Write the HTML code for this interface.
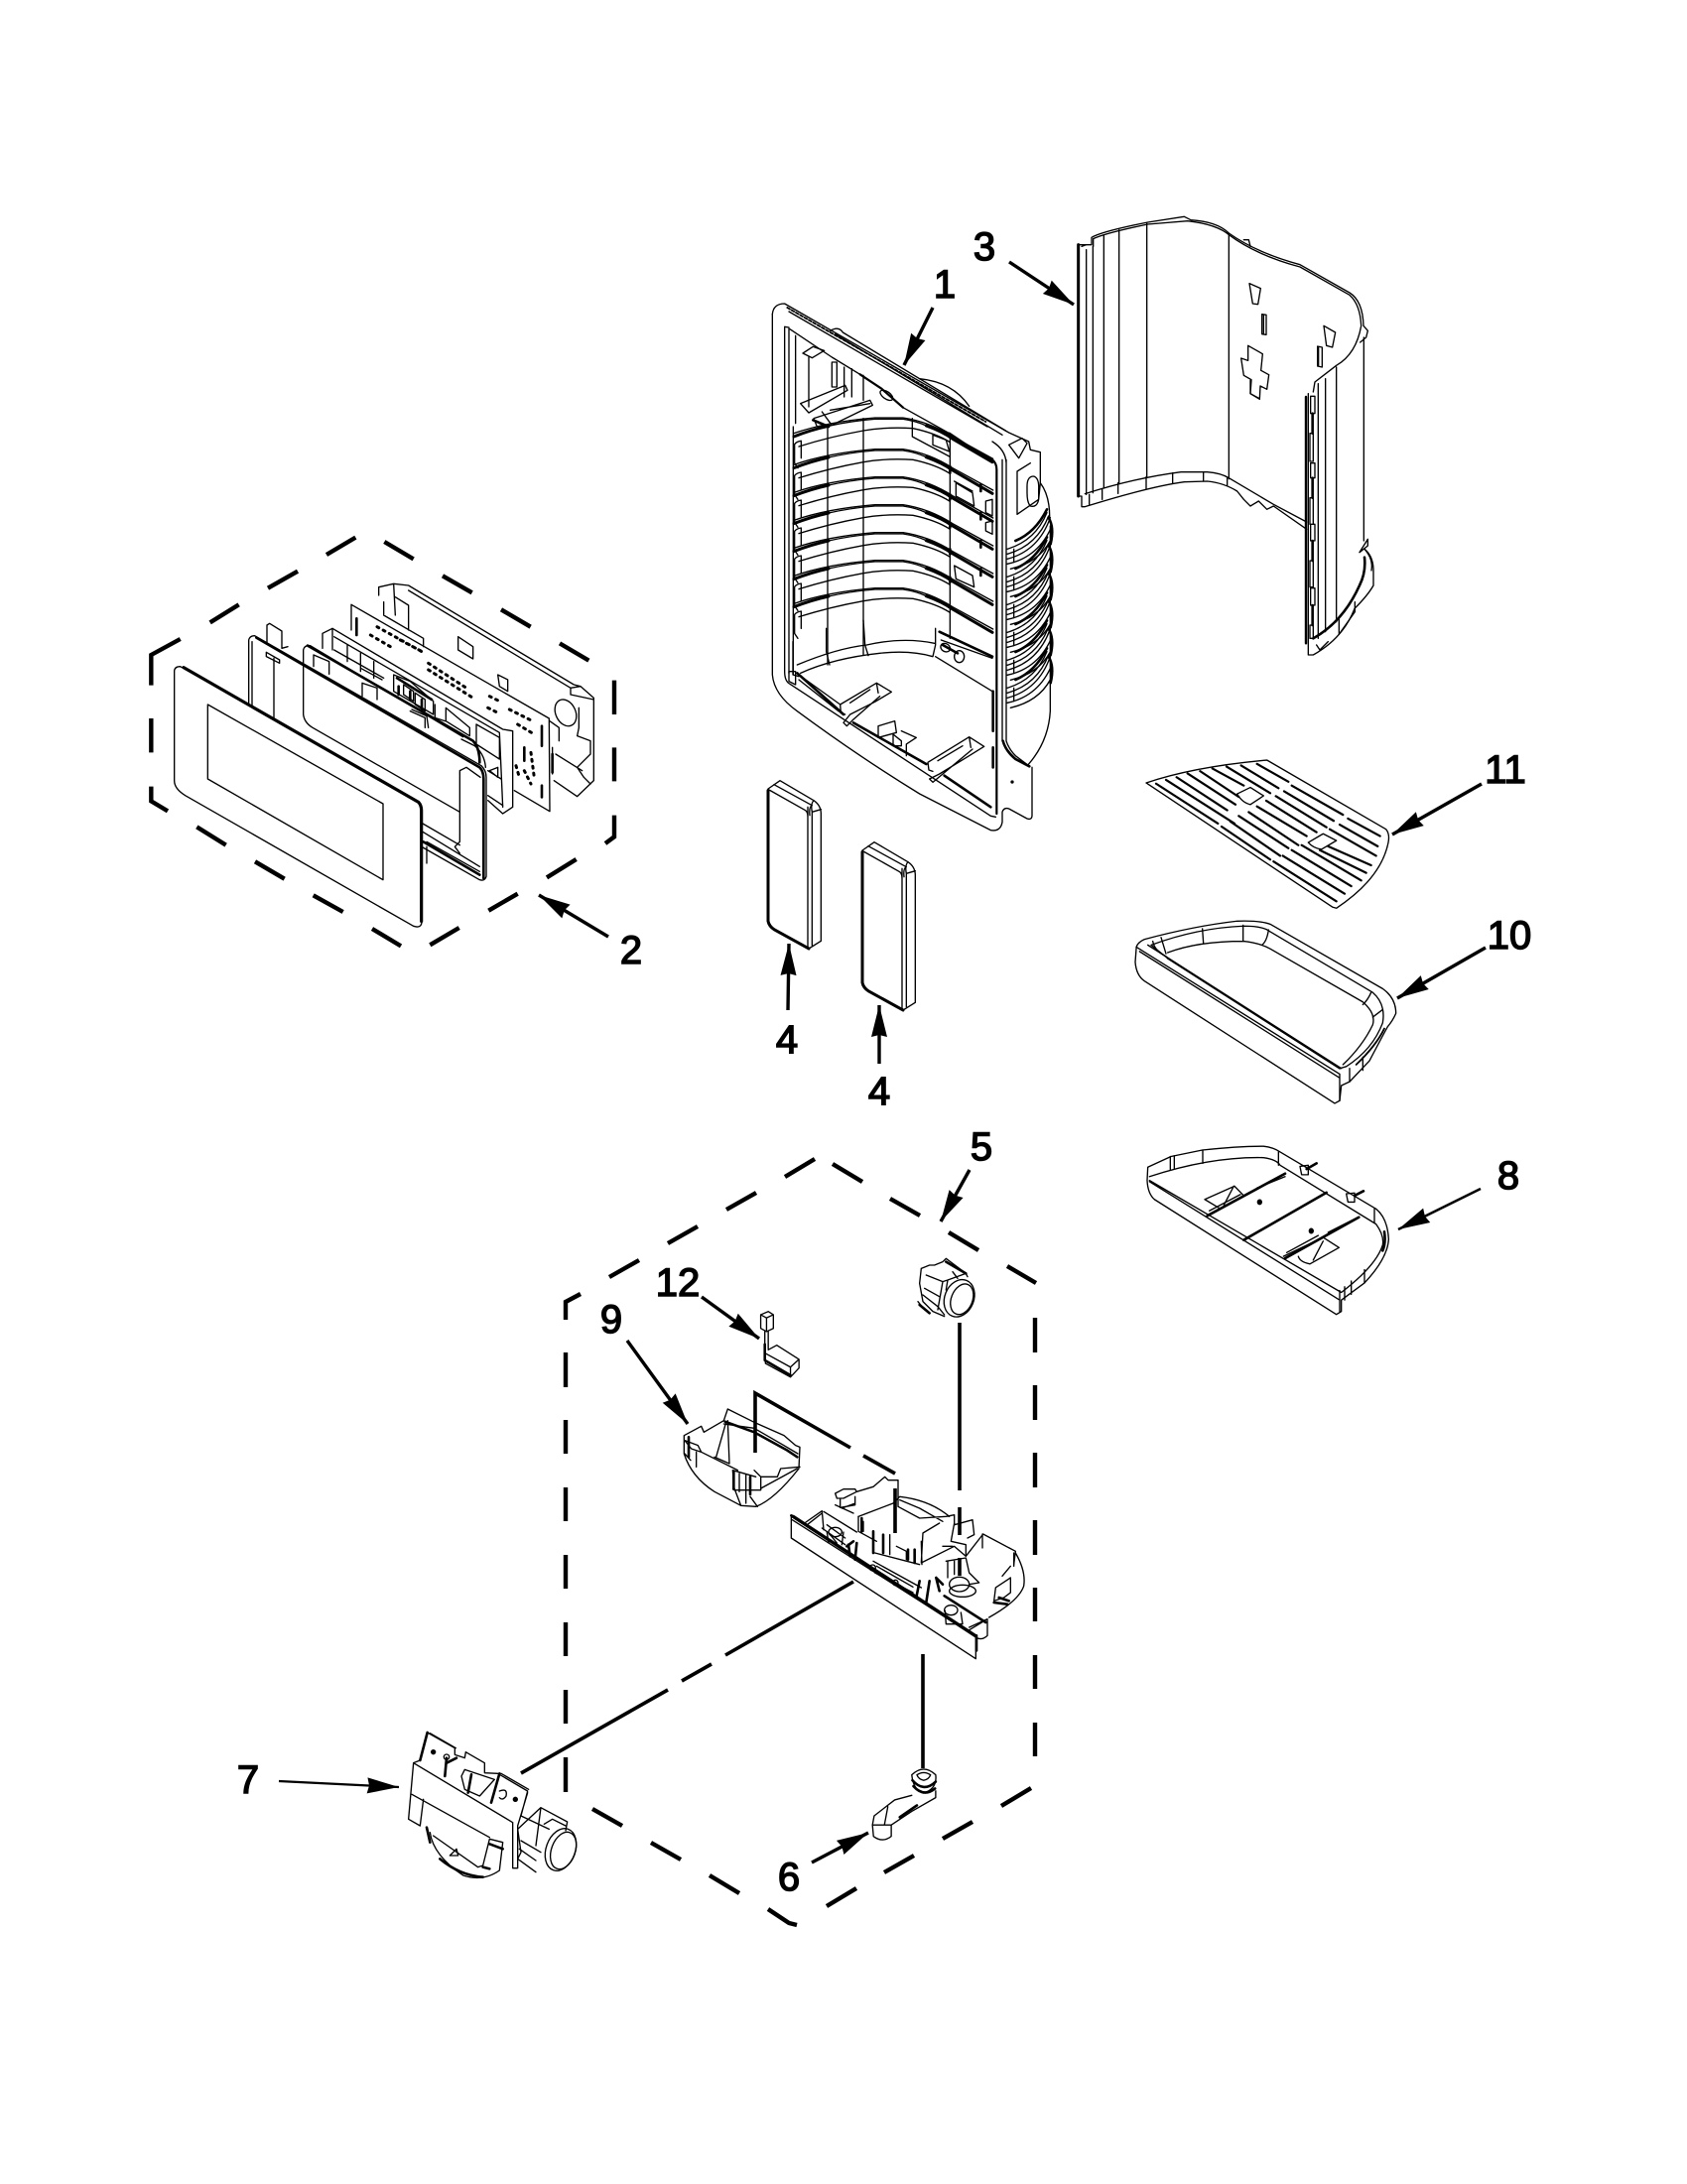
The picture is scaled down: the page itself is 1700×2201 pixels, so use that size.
<!DOCTYPE html>
<html><head><meta charset="utf-8"><style>
html,body{margin:0;padding:0;background:#fff}
svg{display:block}
svg *{vector-effect:non-scaling-stroke}
.l{fill:none;stroke:#000;stroke-width:1.35;stroke-linejoin:round;stroke-linecap:round}
.t{stroke-width:2.6}
.d{fill:none;stroke:#000;stroke-width:4.4;stroke-linecap:butt;stroke-linejoin:miter}
.a{fill:none;stroke:#000;stroke-width:3.4}
.n{font-family:"Liberation Sans",sans-serif;font-size:40px;fill:#000;stroke:#000;stroke-width:1.5;text-anchor:middle}
</style></head><body>
<svg xmlns="http://www.w3.org/2000/svg" width="1700" height="2201" viewBox="0 0 1700 2201">
<defs>
<marker id="m" markerUnits="userSpaceOnUse" markerWidth="36" markerHeight="20" refX="34" refY="10" orient="auto"><path d="M2,2 L34,10 L2,18 L4,10 Z" fill="#000" stroke="none"/></marker>
<g id="rib" class="l">
<path class="t" d="M120,545 Q170,525 225,513 M520,512 Q570,530 600,552 L720,622" style="stroke-width:3"/>
<path d="M120,535 Q220,500 365,488 L450,488 Q530,500 600,545 L722,612"/>
<path d="M225,513 Q290,498 365,492 L450,492 Q490,498 520,512"/>
<path d="M135,575 Q230,545 330,527 Q400,515 480,520 Q550,535 592,562"/>
<path d="M122,568 Q128,560 142,558 L142,610 M122,568 L122,625 L132,640"/>
</g>
<g id="ribr" class="l">
<path d="M765,790 Q850,765 885,680"/>
<path d="M765,805 Q855,780 890,690"/>
<path d="M765,820 Q860,795 895,695"/>
<path d="M765,835 Q860,815 900,720"/>
<path d="M775,850 Q860,830 895,765"/>
<path class="t" d="M790,765 Q850,740 885,670"/>
<path class="t" d="M890,695 Q908,725 896,775"/>
<path d="M785,790 L785,830"/>
</g>
</defs>
<rect width="1700" height="2201" fill="#fff"/>

<!-- PART 1 -->
<g class="l" transform="translate(760,290) scale(.33333)">
<path d="M55,80 Q58,48 92,48 L770,438 L830,465 L835,490 L865,497 L865,590"/>
<path d="M55,80 L55,1170 Q60,1230 130,1280 Q320,1420 500,1530 L715,1640 Q745,1645 750,1615 L750,1585 Q755,1570 770,1575 L825,1605 Q840,1610 840,1595 L840,1450"/>
<path d="M830,1440 Q890,1370 895,1280 L895,720"/>
<path style="stroke-width:1.8" stroke-dasharray="3 2" d="M100,60 L700,405"/>
<path d="M105,72 L705,420 M230,130 Q255,115 268,135 L760,432 M245,140 L750,445"/>
<path d="M500,275 Q600,285 650,358"/>
<path d="M92,118 L105,120 L105,1165 M92,118 L92,1160 Q92,1190 108,1198 L715,1597 L730,1600"/>
<path d="M118,420 L118,1170"/>
<path d="M108,125 L235,210 L320,262"/>
<path class="t" d="M320,262 L385,305 L450,362 M590,440 L650,480 L720,520 Q733,530 733,550 L733,1590" style="stroke-width:2.2"/>
<path d="M450,362 L590,440"/>
<path d="M125,145 L125,410 M165,210 L165,360 M147,198 L178,178 L212,190 L175,212 Z M235,225 L235,300 L250,300 L250,225 Z M272,240 L272,330 M295,245 L295,330 M330,265 L330,340"/>
<path d="M140,350 L275,295 L282,310 L165,378 Z M180,395 L350,340 L358,355 L235,415 L190,420 Z M205,375 L232,412 M230,370 L350,350"/>
<path class="t" d="M178,400 L225,420"/>
<ellipse cx="400" cy="325" rx="22" ry="11" transform="rotate(35 400 325)"/>
<path d="M478,395 L478,450 L590,510 M540,445 L580,460 L590,495 L540,475 Z M610,590 L660,620 L665,660 L610,630 Z M605,585 L660,615 M605,840 L660,870 L665,905 L610,880 Z M700,645 L720,640 L720,690 L700,680 Z M700,710 L720,705 L720,745 L700,735 Z"/>
<use href="#rib" y="-95"/><use href="#rib"/><use href="#rib" y="84"/><use href="#rib" y="168"/><use href="#rib" y="252"/><use href="#rib" y="336"/><use href="#rib" y="420"/>
<path d="M222,420 L222,1140 M330,395 L330,1110 M592,440 L592,1060"/>
<path class="t" d="M685,595 L685,615 M685,680 L685,700 M685,765 L685,785 M685,850 L685,870 M592,540 L592,560 M592,625 L592,640 M592,710 L592,725 M592,790 L592,805 M592,875 L592,890"/>
<path d="M750,520 L750,1370 M762,520 L762,1370 Q770,1395 790,1415 L830,1445 M720,465 Q760,490 762,530"/>
<path d="M795,555 L795,685 L860,640 L865,590 M795,555 L835,530 M825,600 Q825,570 845,570 Q862,575 860,610 L860,640 Q855,665 835,660 Q825,650 825,620 Z M770,475 L810,455 L825,470 L800,515 Z"/>
<path d="M865,590 Q895,630 893,700"/>
<use href="#ribr"/><use href="#ribr" y="84"/><use href="#ribr" y="168"/><use href="#ribr" y="252"/><use href="#ribr" y="336"/><use href="#ribr" y="420"/>
<path class="t" d="M752,1370 Q760,1400 790,1425 L832,1447"/>
<circle cx="780" cy="1494" r="3" fill="#000"/>
</g>
<g class="l" transform="translate(760,570) scale(.33333)">
<path d="M117,230 L117,330 L135,335 M130,300 Q250,250 340,240 Q450,215 545,235 M140,325 Q240,280 380,265 Q470,255 540,275 M218,190 L218,260 L228,300 M330,165 L335,240 L345,272 M548,190 L548,240 L540,275"/>
<path d="M548,275 L720,380 M565,225 L720,280"/>
<path class="t" d="M560,200 L720,275 M130,325 L270,450 M300,475 L520,600 M575,635 L715,730"/>
<path d="M105,320 L125,320 L125,360 L105,350 Z M135,330 L260,420 M135,345 L255,440"/>
<path d="M260,420 L370,355 L415,382 L365,412 L290,450 L270,475 L280,485 L300,465 L380,395 M260,420 L262,445 L275,450 M290,415 L350,375 M370,355 L375,385"/>
<path d="M525,595 L650,518 L695,547 L645,578 L560,630 L530,645 L540,655 L570,630 L660,555 M525,595 L528,618 L540,622 M555,590 L630,545 M650,518 L655,550"/>
<path d="M375,485 L425,470 L430,505 L375,520 Z M420,510 L445,530 L445,545 L420,545 Z M445,500 L490,520 L460,540 L460,575"/>
<ellipse cx="578" cy="248" rx="15" ry="12" transform="rotate(30 578 248)"/>
<ellipse cx="620" cy="275" rx="15" ry="18"/>
<path class="t" d="M570,240 L615,265 M722,550 L722,610 M722,380 L722,500"/>
</g>

<!-- PART 3 -->
<g class="l" transform="translate(1060,200) scale(.33333)">
<path d="M80,140 L120,140 L120,118 Q150,100 290,72 L400,55 L420,65 Q500,70 535,105 Q620,165 750,200 L900,285 Q940,310 942,385 L955,400 L950,420 L932,435"/>
<path d="M125,145 L125,122 Q160,105 290,78 L410,68 Q500,78 538,112 Q620,172 750,207 L900,292 Q932,320 935,385 Q920,470 860,505 L795,555 L790,585"/>
<path d="M580,125 L595,125 L600,145"/>
<path style="stroke-width:3" d="M80,140 L80,900"/>
<path d="M104,155 L104,895 M124,145 L124,890 M157,110 L157,875 M203,95 L203,862 M287,75 L287,842 M535,105 L535,848"/>
<path d="M90,145 L104,140 M80,900 L90,900 L90,932 L100,932 Q300,870 400,857 L470,855 Q520,860 560,885 L580,910 L600,930 L625,915 L650,940 L670,930 L770,1000"/>
<path d="M100,893 Q250,845 390,827 L470,827 Q510,830 535,845 L670,925 L770,978"/>
<path d="M113,895 L113,925 M152,880 L152,910 M200,860 L200,892 M285,842 L285,878 M365,830 L365,862 M458,827 L458,855 M530,845 L530,868"/>
<path d="M597,257 L631,272 L623,320 L607,318 Z M635,350 L648,352 L648,412 L635,410 Z M822,385 L857,405 L848,450 L830,445 Z M803,447 L817,450 L817,510 L803,507 Z M593,445 L637,470 L632,520 L656,533 L650,577 L630,567 L628,607 L600,590 L603,548 L580,535 L572,483 L593,490 Z"/>
<path d="M640,352 L640,410 M806,450 L806,505 M600,550 L600,590 L628,605"/>
<path style="stroke-width:2.4" d="M768,600 L768,1345"/>
<path d="M775,590 L775,1380 L790,1380 Q880,1330 915,1240 Q955,1200 972,1170 L972,1120 Q970,1080 945,1060"/>
<path d="M805,560 L805,1330 M827,545 L827,1310 M860,510 L860,1280 M943,420 L943,1035"/>
<path class="t" d="M790,1330 Q880,1280 930,1170 Q950,1130 945,1085"/>
<path d="M800,1350 L810,1365 L835,1340 M868,1270 L868,1318 M916,1220 L916,1250 L870,1315 M930,1070 L955,1030 L955,1050 L930,1070"/>
<path d="M945,1060 Q972,1090 966,1125"/>
<path d="M782,598 L795,598 L795,650 L782,650 Z M780,710 L790,710 L790,795 L780,795 Z M782,800 L795,800 L795,845 L782,845 Z M780,905 L790,905 L790,985 L780,985 Z M782,985 L795,985 L795,1035 L782,1035 Z M780,1095 L790,1095 L790,1175 L780,1175 Z M782,1178 L795,1178 L795,1230 L782,1230 Z M780,1290 L790,1290 L790,1330 L780,1330 Z"/>
<path class="t" d="M788,650 L788,710 M788,845 L788,905 M788,1035 L788,1095 M788,1230 L788,1290"/>
</g>

<!-- PART 2 -->
<g transform="translate(130,520) scale(.33333)">
<path class="d" d="M67,512 L67,420 L155,372 M245,322 L332,268 M420,218 L510,167 M597,117 L685,65 M772,78 L860,130 M948,181 L1037,232 M1125,283 L1214,335 M1302,385 L1390,437 M1467,497 L1467,600 M1467,700 L1467,802 M1467,905 L1467,970 L1440,990 M1352,1038 L1263,1093 M1175,1142 L1087,1193 M998,1245 L910,1297 M822,1300 L735,1248 M647,1197 L557,1147 M470,1097 L381,1045 M293,995 L205,940 M117,892 L67,862 L67,818 M67,715 L67,612"/>
<g class="l">
<path d="M755,215 L800,205 L845,210 L1345,510 L1365,515 L1405,550 L1405,800 L1355,848 L1285,800 M755,215 L755,240 M800,205 L805,300 M805,245 L845,270 L845,345 M770,260 L770,300 L890,370 L890,395 M995,365 L1040,395 L1040,432 L995,405 Z M1115,480 L1145,495 L1145,530 L1120,515 Z M1335,520 L1365,515 M1335,520 L1335,540 L1405,555"/>
<path d="M845,225 L1335,520"/>
<ellipse cx="1320" cy="595" rx="30" ry="42" transform="rotate(-25 1320 595)"/>
<path d="M1360,580 L1360,640 L1355,665 L1395,680 L1395,720 L1355,760 L1375,790 L1395,810 M1290,720 L1370,770"/>
<path d="M672,268 L1270,612 L1272,893 L1165,830 M672,268 L672,345 M1272,620 L1300,640 L1300,680 M1280,700 L1280,780"/>
<path class="t" d="M688,310 L688,360 M1248,635 L1248,695 M1248,815 L1248,850 M1195,700 L1195,740 M1280,720 L1280,775"/>
<path style="stroke-width:3;stroke-dasharray:2 5" d="M750,335 L885,410 M730,360 L790,395 M820,375 L890,412 M905,445 L1020,520 M905,465 L1040,550 M1090,545 L1120,560 M1085,580 L1115,595 M1150,585 L1220,620 M1175,630 L1225,660 M1215,715 L1225,790 M1170,755 L1180,790 M1195,770 L1215,810"/>
<path d="M585,355 L615,340 L1130,645 L1160,650 L1160,880 L1130,900 L1085,860 M585,355 L585,400 M615,340 L615,405 M620,365 L1120,655 L1130,880 M660,390 L660,440 M700,415 L700,470 M740,440 L740,490 M620,405 L770,490 M700,460 L765,495 M925,570 L925,610 L955,620 M958,580 L958,620 L1030,665 L1030,640 Z M1050,630 L1050,690 L1120,735 L1120,670 Z M1050,630 L1120,670 M1085,770 L1125,795 M1085,845 L1130,875 M1090,770 L1115,790 L1115,760 Z"/>
<path d="M800,480 L850,500 L920,560 L920,600 L800,530 Z M830,510 L860,530 L860,560 L830,540 Z M865,535 L895,555 L895,590 L865,570 Z M855,585 L900,605 L905,640"/>
<path class="t" d="M810,490 L915,555 M815,515 L815,540 M850,530 L850,555 M885,555 L885,585"/>
<path d="M705,505 L750,520 L750,555 M705,505 L705,545"/>
<path d="M362,375 Q365,362 380,362 L1065,755 Q1080,770 1080,790 L1080,1090 Q1075,1105 1060,1100 L888,1002 M362,375 L362,575 M372,380 L372,578 M438,430 L438,612"/>
<path class="t" d="M385,368 L1060,760 Q1072,772 1072,795 L1072,1095"/>
<path d="M417,330 L425,325 L462,348 L462,400 L480,395 M417,330 L417,385 M415,412 L455,435 L455,445 L415,425 Z"/>
<path d="M1000,770 L1000,985 L985,1000 L1000,1020 M1000,770 L1020,760 L1062,790 M888,930 L1000,995 M888,955 L1060,1060 M900,985 L1060,1075 M900,1000 L900,1050"/>
<path class="t" d="M890,985 L1060,1085"/>
<path d="M527,600 L527,405 Q530,390 548,392 L1010,668 M527,600 Q530,625 555,640 L1000,895"/>
<path d="M558,420 L605,440 L605,478 M558,420 L558,455 M850,590 L895,610 L895,640 M1005,675 L1045,695 Q1075,720 1078,760"/>
<path class="t" d="M540,392 L1040,680 Q1060,700 1060,745"/>
<path fill="#fff" d="M137,470 Q137,455 155,455 L870,860 Q885,870 885,890 L885,1225 Q885,1248 860,1240 L170,845 Q137,825 137,800 Z"/>
<path style="stroke-width:3.2" d="M165,458 L875,865 Q884,875 884,890 L884,1225"/>
<path d="M238,570 L768,870 L768,1100 L238,795 Z"/>
</g>
</g>

<!-- PARTS 4 -->
<g class="l" transform="translate(740,760) scale(.33333)">
<path d="M102,105 L138,80 L240,140 Q262,155 262,180 L262,565 L225,588 L210,580 L115,525 Q102,515 102,505 Z"/>
<path d="M222,160 L222,588 M235,175 L235,578 M235,175 L262,167 M120,92 L235,155 Q225,160 228,185 M240,140 Q230,150 235,175 M105,108 L215,170 Q222,175 222,190"/>
<path style="stroke-width:3" d="M102,110 L102,505 Q105,520 120,530 L225,588"/>
<g transform="translate(285,186)">
<path d="M102,105 L138,80 L240,140 Q262,155 262,180 L262,565 L225,588 L210,580 L115,525 Q102,515 102,505 Z"/>
<path d="M222,160 L222,588 M235,175 L235,578 M235,175 L262,167 M120,92 L235,155 Q225,160 228,185 M240,140 Q230,150 235,175 M105,108 L215,170 Q222,175 222,190"/>
<path style="stroke-width:3" d="M102,110 L102,505 Q105,520 120,530 L225,588"/>
</g>
</g>

<!-- PARTS 11 10 8 -->
<g class="l" transform="translate(1120,740) scale(.33333,.38265)">
<path d="M105,128 Q250,85 470,68 L830,250 Q842,262 837,285 Q815,380 680,458 L668,455 Z"/>
<g style="stroke-width:2.2">
<path style="stroke-width:2.2" d="M440,78 L535,125 M545,135 L700,212 M715,222 L812,268 M392,82 L505,142 M522,150 L672,228 M690,238 L805,295 M348,85 L480,155 M497,163 L650,245 M660,250 L800,320 M305,90 L400,135 M468,175 L620,258 M655,295 L785,345 M268,97 L385,165 M440,190 L590,268 M630,305 L770,365 M230,103 L375,185 M415,205 L565,292 M575,292 L755,385 M197,113 L350,200 M385,215 L535,300 M545,305 L725,400 M165,120 L372,235 M360,230 L510,320 M518,320 L705,420 M135,130 L322,235 M333,243 L480,330 M490,335 L680,440"/>
</g>
<path d="M380,157 L420,140 L460,162 L420,185 Q395,180 380,157 Z M595,285 L640,262 L680,280 L635,303 Q610,300 595,285 Z"/>
<path d="M75,565 Q75,550 100,540 Q250,505 380,492 Q450,490 480,500 L820,670 Q860,695 860,735 Q850,755 835,770 Q810,810 780,860 L720,915 L695,925 L690,965 L675,972 L100,650 Q75,635 72,600 Z"/>
<path d="M120,555 Q260,510 400,505 Q460,505 480,520 L790,680 Q830,710 820,760 Q790,830 710,875 L690,880 L170,590 Z"/>
<path d="M170,575 Q260,545 400,545 Q450,550 480,565 L760,705 Q800,735 790,765 Q760,820 700,870 M75,560 L690,895 M85,572 L690,905 M110,555 L695,880 M275,512 L278,550 M398,503 L398,545 M475,515 Q470,545 455,555 M785,680 Q775,700 760,712 M820,725 L790,745 M690,895 L690,965 M720,880 L720,915 M760,850 L760,885"/>
<path style="stroke-width:1.8" d="M170,590 L690,880 M825,775 Q800,820 740,870"/>
<path d="M125,545 Q130,570 165,585 M150,535 L165,578"/>
<path d="M110,1140 L180,1112 L275,1095 Q380,1085 460,1085 Q490,1088 510,1100 L800,1250 Q835,1275 838,1330 Q835,1380 765,1445 L695,1490 L695,1520 L680,1528 L130,1225 Q110,1210 108,1175 Z"/>
<path d="M115,1165 Q300,1112 460,1115 Q500,1120 510,1135 L800,1290 Q825,1320 820,1345 Q800,1400 695,1470 L115,1175 M115,1178 L690,1490 M178,1112 L178,1148 M190,1110 L190,1145 M276,1095 L276,1130 M505,1100 L505,1135 M795,1250 L795,1285 M765,1410 L765,1445 M725,1440 L725,1475 M705,1455 L705,1490 M690,1465 L690,1520"/>
<path d="M282,1225 L372,1190 L400,1215 L330,1250 Z M370,1190 L340,1240 M520,1375 L640,1325 L688,1352 L600,1395 Q570,1390 565,1375 M640,1335 L610,1385"/>
<path class="t" d="M290,1268 L525,1157 M400,1332 L650,1207 M525,1380 L748,1272 M825,1310 Q830,1340 820,1360"/>
<path d="M296,1255 L390,1212 M440,1195 L525,1165 M655,1312 L745,1272 M530,1365 L625,1320"/>
<path d="M570,1138 L595,1135 L595,1160 L575,1160 Z M710,1210 L735,1208 L735,1232 L715,1232 Z"/>
<path class="t" d="M590,1145 L620,1130 M735,1215 L762,1203"/>
<circle cx="448" cy="1232" r="6" fill="#000"/><circle cx="604" cy="1308" r="6" fill="#000"/>
</g>

<!-- DASH BOX 5 and LEADERS -->
<path class="d" d="M585,1304 L570,1312 L570,1330 M570,1363 L570,1398 M570,1431 L570,1465 M570,1499 L570,1533 M570,1567 L570,1601 M570,1635 L570,1669 M570,1703 L570,1737 M570,1771 L570,1806 M614,1287 L644,1270 M673,1253 L703,1236 M732,1219 L762,1202 M791,1186 L821,1168 M839,1173 L869,1191 M897,1208 L927,1225 M956,1242 L986,1260 M1015,1276 L1044,1293 M1043,1328 L1043,1363 M1043,1396 L1043,1431 M1043,1464 L1043,1499 M1043,1532 L1043,1567 M1043,1600 L1043,1634 M1043,1668 L1043,1702 M1043,1736 L1043,1770 M1039,1802 L1009,1820 M980,1836 L950,1853 M921,1870 L891,1887 M863,1903 L833,1921 M803,1940 L795,1938 L774,1924 M745,1908 L715,1890 M686,1874 L656,1857 M627,1840 L597,1823"/>
<path class="d" style="stroke-width:3.6" d="M525,1787 L673,1703 M687,1694 L717,1677 M731,1668 L860,1594 M761,1464 L761,1404 L857,1459 M870,1467 L902,1485 M902,1500 L902,1545 M967,1333 L967,1502 M967,1519 L967,1547 M967,1570 L967,1588 M930,1667 L930,1782"/>

<!-- PART 5 main -->
<g class="l" transform="translate(780,1440) scale(.33333)">
<path fill="#fff" d="M52,265 L610,630 L610,695 L52,330 Z"/>
<path d="M55,275 L605,625 M92,285 L145,248 L150,305 M100,290 L145,255 M150,250 L250,312 M145,300 L215,350 M160,290 L215,330"/>
<path class="t" d="M52,262 L60,265 L610,625 M612,625 L612,670"/>
<path d="M185,195 L210,182 L245,182 L250,190 L210,210 L190,210 Z M200,210 L200,238 L245,230 L245,205 M185,230 L240,255 M205,240 L245,225 M250,190 L300,175 L335,145 L345,155 L375,155 L375,235 L440,270 L520,265 L545,260 L545,290 L600,275 L605,320 L585,330 M255,265 L360,225 L380,205 Q470,215 530,265 M380,215 L440,240 L510,280"/>
<path d="M255,265 L255,310 L310,340 M270,280 L270,310 M500,285 L450,315 L445,405 L545,355 L580,385 L632,318 L730,370 L725,410 M630,318 L630,360 M445,340 L447,410 M510,355 L540,355 M545,285 L535,340 L580,350 L580,385"/>
<path d="M300,400 L445,480 M310,415 L420,478 M305,435 L420,495 M350,320 L350,380 M370,355 L400,370 L400,395 M305,375 L440,410"/>
<path class="t" d="M265,270 L265,310 M300,310 L300,375 M330,320 L330,375 M405,365 L405,395 M425,365 L425,405 M220,355 L240,340 M225,350 L230,385 M250,345 L245,395 M440,460 L430,510 M470,460 L460,525"/>
<circle cx="298" cy="420" r="9"/><circle cx="367" cy="465" r="8"/>
<ellipse cx="185" cy="312" rx="20" ry="14"/><path d="M160,312 L165,345 M210,312 L205,350 M170,320 L190,345"/>
<path d="M520,400 L580,390 L590,435 L620,465 L590,470 M525,400 L525,450 M545,400 L545,440"/>
<ellipse cx="560" cy="470" rx="30" ry="22"/><ellipse cx="570" cy="490" rx="40" ry="18"/>
<path class="t" d="M490,450 L510,470 M490,450 L500,490 M515,505 L640,585"/>
<ellipse cx="535" cy="548" rx="20" ry="15"/><path d="M517,550 L520,590 L570,590 L565,555"/>
<path d="M730,375 Q762,430 755,475 Q740,520 650,570 M590,600 L645,575 L645,625 Q630,640 612,632 M725,375 L725,415 M590,608 L640,578 M670,480 L715,450 L715,495 L695,510 L665,520 Z M715,415 L690,445"/>
<path class="t" d="M680,510 L710,520 M665,525 L705,530"/>
</g>

<!-- PART 9 -->
<g class="l" transform="translate(680,1400) scale(.33333)">
<path d="M28,140 L80,112 L88,130 L148,95 L160,60 L240,100 M28,140 L28,195 Q50,265 120,310 L200,352 L245,355 Q300,335 375,240 L378,175 L365,170 L330,140 L240,100 M200,352 L180,300 M228,325 L250,355 M378,235 L320,240 L310,265 L260,265 L240,245"/>
<path d="M30,155 L70,170 L80,190 L50,180 Z M155,100 L125,205 M160,95 L165,225 M260,265 L260,305 L180,305 L175,245 M175,245 L245,265 M80,190 L190,245 M65,190 L65,235 M30,195 L48,215 M120,205 L165,225 M215,260 L215,345 M195,255 L195,310"/>
<path class="t" d="M152,98 L240,130 L340,185 L370,205 M178,250 L178,302 M228,265 L228,318 M42,145 L42,205"/>
<path d="M148,105 L240,118 L330,170 L372,195 M260,300 L370,240"/>
</g>

<!-- PART 5 knob -->
<g class="l" transform="translate(640,1120) scale(.33333)">
<path d="M865,475 L890,465 L905,465 L930,455 L940,445 L1000,490 L1005,500 M865,475 L860,520 L870,575 L900,605 L935,620 M880,495 L930,515 L945,510 L1000,490 M875,535 L920,560 M870,555 L915,590 L935,615 M930,515 L915,600 M945,510 L940,540 M960,485 L975,505 M855,575 L875,600"/>
<ellipse cx="980" cy="565" rx="44" ry="58" transform="rotate(22 980 565)"/>
<ellipse cx="988" cy="568" rx="32" ry="48" transform="rotate(22 988 568)"/>
<path class="t" d="M860,585 L890,610 M940,455 L1000,490"/>
</g>

<!-- PART 12 and 6 -->
<g class="l" transform="translate(540,1240) scale(.34435,.45914)">
<path d="M658,185 L680,178 L695,185 L695,215 L675,222 L658,215 Z M658,185 L675,192 L695,185 M675,192 L675,222 M670,222 L670,270 L672,292 L745,322 L770,302 L770,283 L705,252 L680,262 M680,222 L680,260 M672,270 L745,300 L770,283 M745,300 L745,322"/>
<path class="t" d="M670,250 L670,285 L745,318"/>
<path d="M1100,1195 Q1135,1170 1170,1195 Q1175,1225 1135,1235 Q1105,1230 1100,1195 Z M1115,1195 Q1135,1185 1155,1195 Q1150,1205 1135,1207 Q1120,1205 1115,1195 Z"/>
<path class="t" d="M1102,1207 Q1135,1235 1170,1210 M1105,1220 Q1135,1245 1168,1225"/>
<path d="M1100,1240 L1050,1250 L990,1285 L985,1305 L1040,1305 L1100,1275 L1170,1245 L1170,1230 M985,1305 L988,1330 Q1015,1345 1040,1330 L1040,1305 M1030,1265 L1020,1305"/>
<path class="t" d="M1065,1288 L1115,1262"/>
</g>

<!-- PART 7 -->
<g class="l" transform="translate(220,1700) scale(.33333)">
<path d="M590,230 L610,222 L632,138 L715,185 L715,205 L745,215 L748,197 L805,230 L805,260 L845,262 L935,315 L915,390 L1000,430 M590,230 L890,410 M590,230 L575,400 L610,420 L620,340 M585,325 L820,455 M890,410 L890,548 L905,548 L905,420 L935,320"/>
<path d="M640,140 L718,185 M855,262 L938,310 M735,270 L745,310 L790,330 L835,280 L790,265 L745,250 Z"/>
<path class="t" d="M632,138 L610,222 M690,215 L685,270 M765,265 L755,320 M850,262 L825,350 M720,215 L690,230"/>
<circle cx="650" cy="197" r="6" fill="#000"/><circle cx="898" cy="340" r="6" fill="#000"/><path d="M850,315 Q875,305 870,330 Q860,345 850,335"/>
<circle cx="690" cy="212" r="8"/>
<path d="M640,440 Q650,510 740,570 Q800,590 850,555 L860,470 L820,460 L800,540 L785,545 L650,450 M720,490 L700,510 L725,510 Z"/>
<path class="t" d="M630,425 L640,470 M670,520 Q730,570 800,575 M820,475 L860,490 M800,545 L820,550"/>
<path d="M905,430 L975,365 L1055,408 L1050,435 M905,430 L915,500 L905,520 L960,560 M915,465 L975,500 M910,490 L960,525 M975,365 L960,480 M985,415 L1010,400 L1050,420"/>
<ellipse cx="1035" cy="492" rx="44" ry="66" transform="rotate(20 1035 492)"/>
<ellipse cx="1043" cy="495" rx="36" ry="58" transform="rotate(20 1043 495)"/>
</g>

<!-- ARROWS -->
<g class="a">
<path marker-end="url(#m)" d="M940,310 L911,368"/>
<path marker-end="url(#m)" d="M1017,264 L1082,307"/>
<path marker-end="url(#m)" d="M613,944 L543,902"/>
<path marker-end="url(#m)" d="M794,1018 L795,951"/>
<path marker-end="url(#m)" d="M886,1072 L886,1013"/>
<path marker-end="url(#m)" d="M1493,790 L1403,841"/>
<path marker-end="url(#m)" d="M1497,955 L1408,1006"/>
<path marker-end="url(#m)" style="stroke-width:2.6" d="M1492,1198 L1409,1239"/>
<path marker-end="url(#m)" d="M977,1179 L948,1231"/>
<path marker-end="url(#m)" d="M707,1307 L765,1349"/>
<path marker-end="url(#m)" d="M632,1351 L693,1435"/>
<path marker-end="url(#m)" d="M818,1877 L875,1847"/>
<path marker-end="url(#m)" style="stroke-width:2.2" d="M281,1795 L402,1801"/>
</g>

<!-- LABELS -->
<text class="n" x="952" y="300">1</text>
<text class="n" x="992" y="262">3</text>
<text class="n" x="636" y="971">2</text>
<text class="n" x="793" y="1061">4</text>
<text class="n" x="886" y="1113">4</text>
<text class="n" x="1517" y="789">11</text>
<text class="n" x="1521" y="956">10</text>
<text class="n" x="1520" y="1198">8</text>
<text class="n" x="989" y="1169">5</text>
<text class="n" x="683" y="1306">12</text>
<text class="n" x="616" y="1343">9</text>
<text class="n" x="795" y="1905">6</text>
<text class="n" x="250" y="1807">7</text>
</svg>
</body></html>
